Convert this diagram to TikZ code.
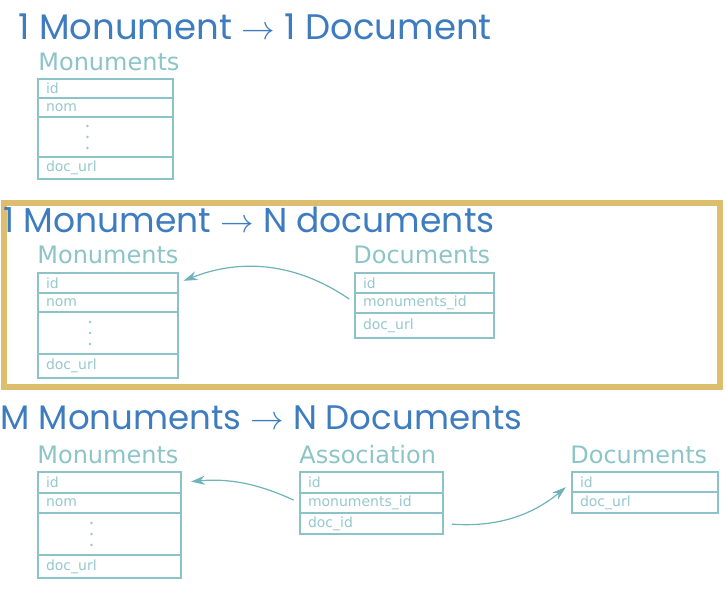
\documentclass[tikz,border=0pt]{standalone}
\usepackage{fontspec}
\setmainfont{DejaVu Sans}
\newfontfamily\titlefont{Poppins}
\usetikzlibrary{positioning,arrows.meta,calc}

\definecolor{titleblue}{RGB}{62,124,192}
\definecolor{headteal}{RGB}{140,196,200}
\definecolor{rowteal}{RGB}{150,200,205}
\definecolor{lineteal}{RGB}{140,195,200}
\definecolor{arrowteal}{RGB}{110,178,186}
\definecolor{framegold}{RGB}{221,190,110}

\newcommand{\titlearrow}{\scalebox{1.35}{$\rightarrow$}}

\tikzset{every picture/.style={line width=0.75pt}}
\tikzset{
  bigtitle/.style={anchor=base west, inner sep=0pt, text=titleblue, font=\titlefont\fontsize{#1}{#1}\selectfont},
  tabhead/.style={anchor=base west, inner sep=0pt, text=headteal, font=\fontsize{24}{24}\selectfont},
  tabrow/.style={draw=lineteal, line width=1.4pt, outer sep=0pt, inner xsep=8pt, inner ysep=0pt,
    anchor=north west, text=rowteal, font=\fontsize{14}{14}\selectfont, align=left},
  link/.style={draw=arrowteal, line width=1.2pt, -{Stealth[length=14pt,width=9pt]}},
}

\begin{document}
\begin{tikzpicture}[x=1pt,y=1pt,yscale=-1,xscale=1]
\useasboundingbox (0,0) rectangle (726,590);

%Shape: Frame round the second case
\draw [framegold, line width=5.5pt] (4,203) rectangle (720,387);

% Text Node
\node [bigtitle=35.5] (title1) at (18,39) {1 Monument \titlearrow{} 1 Document};
% Text Node
\node [bigtitle=34.5] (title2) at (3,232) {1 Monument \titlearrow{} N documents};
% Text Node
\node [bigtitle=34] (title3) at (0,429) {M Monuments \titlearrow{} N Documents};

%Table: Monuments (1)
\node [tabhead] (mon1head) at (38,70) {Monuments};
\node [tabrow, text width=119pt, minimum height=19pt] (mon1id) at (38,79) {id};
\node [tabrow, text width=119pt, minimum height=19pt, below=0pt of mon1id] (mon1nom) {nom};
\node [tabrow, text width=119pt, minimum height=40pt, below=0pt of mon1nom] (mon1dots) {};
\node [tabrow, text width=119pt, minimum height=22pt, below=0pt of mon1dots] (mon1url) {doc\_url};

%Table: Monuments (2)
\node [tabhead] (mon2head) at (37,263) {Monuments};
\node [tabrow, text width=124pt, minimum height=20pt] (mon2id) at (38,273) {id};
\node [tabrow, text width=124pt, minimum height=19pt, below=0pt of mon2id] (mon2nom) {nom};
\node [tabrow, text width=124pt, minimum height=42pt, below=0pt of mon2nom] (mon2dots) {};
\node [tabrow, text width=124pt, minimum height=24pt, below=0pt of mon2dots] (mon2url) {doc\_url};

%Table: Documents (2)
\node [tabhead] (doc2head) at (353,263) {Documents};
\node [tabrow, text width=123pt, minimum height=20pt] (doc2id) at (355,273) {id};
\node [tabrow, text width=123pt, minimum height=20pt, below=0pt of doc2id] (doc2mid) {monuments\_id};
\node [tabrow, text width=123pt, minimum height=25pt, below=0pt of doc2mid] (doc2url) {doc\_url};

%Table: Monuments (3)
\node [tabhead] (mon3head) at (37,463) {Monuments};
\node [tabrow, text width=127pt, minimum height=21pt] (mon3id) at (38,472) {id};
\node [tabrow, text width=127pt, minimum height=20pt, below=0pt of mon3id] (mon3nom) {nom};
\node [tabrow, text width=127pt, minimum height=42pt, below=0pt of mon3nom] (mon3dots) {};
\node [tabrow, text width=127pt, minimum height=23pt, below=0pt of mon3dots] (mon3url) {doc\_url};

%Table: Association (3)
\node [tabhead] (asc3head) at (299,463) {Association};
\node [tabrow, text width=127pt, minimum height=21pt] (asc3id) at (300,472) {id};
\node [tabrow, text width=127pt, minimum height=20pt, below=0pt of asc3id] (asc3mid) {monuments\_id};
\node [tabrow, text width=127pt, minimum height=21pt, below=0pt of asc3mid] (asc3did) {doc\_id};

%Table: Documents (3)
\node [tabhead] (doc3head) at (570,463) {Documents};
\node [tabrow, text width=130pt, minimum height=20pt] (doc3id) at (572,472) {id};
\node [tabrow, text width=130pt, minimum height=21pt, below=0pt of doc3id] (doc3url) {doc\_url};

%Dots in the middle rows
\foreach \t in {mon1dots,mon2dots,mon3dots}
  \foreach \dy in {-11,0,11}
    \fill [rowteal] ($(\t.center)+(-18,\dy)$) circle (1.4pt);

%Links (yscale=-1 flips the bends)
\draw [link, shorten <=7pt, shorten >=6pt] (doc2mid.west) to [bend left=28] (mon2id.east);
\draw [link, shorten <=7pt, shorten >=10pt] (asc3mid.west) to [bend left=15] (mon3id.east);
\draw [link, shorten <=9pt, shorten >=8pt] (asc3did.east) to [bend left=22] (doc3id.west);

\end{tikzpicture}
\end{document}
